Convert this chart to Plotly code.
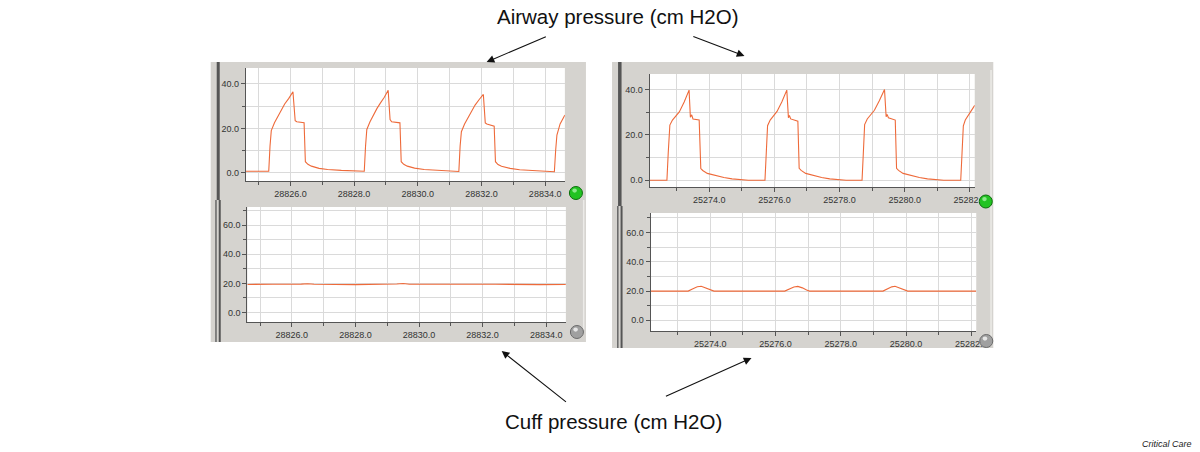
import plotly.graph_objects as go

W, H = 1200, 452
FIG_W = 1215

# ---------------- data ----------------
airway_left_t = [28824.6, 28825.32, 28825.36, 28825.40, 28825.50, 28825.61, 28825.72, 28825.82, 28825.95, 28826.08,
                 28826.15, 28826.20, 28826.43, 28826.47, 28826.55, 28826.66, 28826.90, 28827.17, 28827.60, 28828.00, 28828.30,
                 28828.32, 28828.36, 28828.40, 28828.50, 28828.60, 28828.72, 28828.83, 28828.95, 28829.07,
                 28829.13, 28829.18, 28829.44, 28829.48, 28829.56, 28829.67, 28829.90, 28830.20, 28830.60, 28831.00, 28831.27,
                 28831.29, 28831.33, 28831.37, 28831.47, 28831.58, 28831.70, 28831.80, 28831.93, 28832.06,
                 28832.12, 28832.17, 28832.40, 28832.44, 28832.52, 28832.63, 28832.90, 28833.20, 28833.60, 28834.00, 28834.27,
                 28834.29, 28834.33, 28834.37, 28834.47, 28834.62]
airway_left_p = [0.7, 0.7, 12.0, 19.0, 22.5, 25.5, 28.5, 31.0, 33.5, 36.5,
                 23.5, 23.0, 22.5, 5.0, 3.8, 3.0, 2.0, 1.5, 1.1, 0.9, 0.7,
                 0.7, 12.0, 19.5, 23.0, 26.0, 29.0, 31.5, 34.0, 37.2,
                 24.0, 23.0, 22.5, 5.0, 3.8, 3.0, 2.1, 1.5, 1.1, 0.8, 0.6,
                 0.6, 12.0, 18.5, 22.0, 25.0, 28.0, 30.5, 33.0, 35.3,
                 22.5, 22.0, 21.0, 5.0, 3.7, 2.9, 2.0, 1.4, 1.0, 0.7, 0.5,
                 0.5, 10.0, 17.0, 22.0, 26.0]

cuff_left_t = [28824.6, 28825.2, 28825.4, 28826.3, 28826.5, 28826.7, 28828.0, 28829.3, 28829.5, 28829.7,
               28831.3, 28832.4, 28833.8, 28834.2, 28834.62]
cuff_left_p = [19.3, 19.1, 19.4, 19.5, 19.8, 19.4, 19.2, 19.6, 19.9, 19.4,
               19.1, 19.4, 19.2, 19.0, 19.3]

airway_right_t = [25272.17, 25272.70, 25272.74, 25272.79, 25272.87, 25272.97, 25273.08, 25273.23, 25273.38,
                  25273.42, 25273.46, 25273.50, 25273.69, 25273.74, 25273.80, 25273.94, 25274.20, 25274.45, 25274.70, 25274.96, 25275.20, 25275.69,
                  25275.71, 25275.75, 25275.79, 25275.87, 25275.97, 25276.08, 25276.23, 25276.38,
                  25276.43, 25276.46, 25276.50, 25276.72, 25276.76, 25276.82, 25276.96, 25277.20, 25277.45, 25277.70, 25277.96, 25278.20, 25278.67,
                  25278.69, 25278.73, 25278.77, 25278.85, 25278.95, 25279.07, 25279.22, 25279.38,
                  25279.43, 25279.46, 25279.50, 25279.71, 25279.75, 25279.81, 25279.95, 25280.20, 25280.45, 25280.70, 25280.96, 25281.20, 25281.70,
                  25281.72, 25281.76, 25281.80, 25281.86, 25281.96, 25282.06, 25282.15]
airway_right_p = [0.0, 0.0, 12.0, 24.3, 26.5, 28.3, 30.1, 34.5, 39.7,
                  27.8, 28.8, 27.0, 26.5, 5.1, 4.3, 3.0, 2.0, 1.2, 0.6, 0.2, 0.0, 0.0,
                  0.0, 12.0, 24.0, 26.5, 28.3, 30.3, 34.6, 39.7,
                  27.5, 28.5, 27.0, 26.0, 5.2, 4.3, 3.0, 2.0, 1.2, 0.6, 0.2, 0.0, 0.0,
                  0.0, 12.0, 24.5, 27.0, 28.7, 30.8, 35.0, 40.0,
                  28.0, 29.0, 27.5, 26.5, 5.2, 4.3, 3.0, 2.0, 1.2, 0.6, 0.2, 0.0, 0.0,
                  0.0, 12.0, 24.0, 26.5, 28.5, 31.0, 33.0]

cuff_right_t = [25272.17, 25273.32, 25273.45, 25273.60, 25273.72, 25273.85, 25274.00, 25274.11,
                25276.28, 25276.42, 25276.56, 25276.68, 25276.82, 25276.95, 25277.04,
                25279.29, 25279.43, 25279.56, 25279.66, 25279.80, 25279.95, 25280.05, 25282.15]
cuff_right_p = [20.0, 20.0, 21.5, 23.0, 23.3, 22.3, 20.8, 20.0,
                20.0, 21.5, 22.8, 23.2, 22.2, 20.7, 20.0,
                20.0, 21.5, 22.9, 23.3, 22.2, 20.7, 20.0, 20.0]

x_range_left = [28824.6, 28834.62]
x_range_right = [25272.17, 25282.15]
airway_y_left = [-3.7, 47.2]
airway_y_right = [-3.0, 46.8]
cuff_y_left = [-6.5, 72.5]
cuff_y_right = [-7.3, 73.4]

title_top = "Airway pressure (cm H2O)"
title_bottom = "Cuff pressure (cm H2O)"
credit = "Critical Care"

# ---------------- styling ----------------
LINE = "#EE6A3A"
GRID = "#dadada"
AXC = "#555555"
PANEL = "#D5D3CF"
FONT = "Liberation Sans"


def px(x):
    return x / W


def py(y):
    return 1 - y / H


def xax(dom, rng, t0):
    return dict(domain=[px(dom[0]), px(dom[1])], range=rng, tick0=t0, dtick=2, tickformat=".1f",
                showline=True, linecolor=AXC, linewidth=1, ticks="outside", ticklen=4, tickcolor=AXC,
                showgrid=True, gridcolor=GRID, gridwidth=1, zeroline=False, fixedrange=True,
                minor=dict(dtick=1, tick0=t0, showgrid=True, gridcolor=GRID, ticks="outside", ticklen=3, tickcolor=AXC),
                tickfont=dict(size=9, color="#333", family=FONT))


def yax(dom, rng):
    return dict(domain=[py(dom[1]), py(dom[0])], range=rng, tick0=0, dtick=20, tickformat=".1f",
                showline=True, linecolor=AXC, linewidth=1, ticks="outside", ticklen=4, tickcolor=AXC,
                showgrid=True, gridcolor=GRID, gridwidth=1, zeroline=False, fixedrange=True,
                minor=dict(dtick=10, tick0=0, showgrid=True, gridcolor=GRID, ticks="outside", ticklen=3, tickcolor=AXC),
                tickfont=dict(size=9, color="#333", family=FONT))


# pixel geometry of each plot area: (x0, x1), (y0_top, y1_bottom)
TL = ((245, 563), (68, 181))
BL = ((246.5, 564), (207, 322))
TR = ((647.5, 971.5), (74, 187))
BR = ((648.5, 973), (213, 331))

fig = go.Figure()
fig.add_trace(go.Scatter(x=airway_left_t, y=airway_left_p, xaxis="x", yaxis="y", mode="lines",
                         line=dict(color=LINE, width=1.1), hoverinfo="skip"))
fig.add_trace(go.Scatter(x=cuff_left_t, y=cuff_left_p, xaxis="x2", yaxis="y2", mode="lines",
                         line=dict(color=LINE, width=1.1), hoverinfo="skip"))
fig.add_trace(go.Scatter(x=airway_right_t, y=airway_right_p, xaxis="x3", yaxis="y3", mode="lines",
                         line=dict(color=LINE, width=1.1), hoverinfo="skip"))
fig.add_trace(go.Scatter(x=cuff_right_t, y=cuff_right_p, xaxis="x4", yaxis="y4", mode="lines",
                         line=dict(color=LINE, width=1.1), hoverinfo="skip"))

shapes = []


def rect(x0, y0, x1, y1, fill, line=None, layer="below"):
    shapes.append(dict(type="rect", xref="paper", yref="paper", x0=px(x0), x1=px(x1), y0=py(y1), y1=py(y0),
                       fillcolor=fill, line=dict(width=0 if line is None else 1, color=line or fill), layer=layer))


# gray panels
rect(210, 62, 584, 342, PANEL)
rect(610, 62, 990, 348, PANEL)
# dark bars at panel left edges
rect(216, 62, 219, 200, "#555")
rect(214.5, 200, 216, 342, "#666")
rect(218, 200, 220, 342, "#555")
rect(616, 62, 619.5, 206, "#555")
rect(615, 206, 616.5, 348, "#666")
rect(618.5, 206, 620.5, 348, "#555")
# scrollbar-ish light strips
rect(581, 200, 582.5, 330, "#ecebe8")
rect(987, 70, 988.5, 340, "#ecebe8")
# white plot areas
for (xs, ys) in (TL, BL, TR, BR):
    rect(xs[0], ys[0], xs[1], ys[1], "white")


def ball(cx, cy, r, fill, edge, hl):
    shapes.append(dict(type="circle", xref="paper", yref="paper", x0=px(cx - r), x1=px(cx + r),
                       y0=py(cy + r), y1=py(cy - r), fillcolor=fill, line=dict(color=edge, width=1), layer="above"))
    shapes.append(dict(type="circle", xref="paper", yref="paper", x0=px(cx - r * 0.55), x1=px(cx + r * 0.15),
                       y0=py(cy - r * 0.05), y1=py(cy - r * 0.7), fillcolor=hl, line=dict(width=0), layer="above"))


ball(574, 193, 6.5, "#22c322", "#0b6e0b", "#8de88d")
ball(575, 332, 6.5, "#a0a0a0", "#6b6b6b", "#e6e6e6")
ball(982.5, 201.5, 6.5, "#22c322", "#0b6e0b", "#8de88d")
ball(983, 341, 6.5, "#a0a0a0", "#6b6b6b", "#e6e6e6")

annotations = [
    dict(text=title_top, x=px(616), y=py(16), xref="paper", yref="paper", showarrow=False,
         font=dict(size=20.5, color="#111", family=FONT), xanchor="center", yanchor="middle"),
    dict(text=title_bottom, x=px(611), y=py(421), xref="paper", yref="paper", showarrow=False,
         font=dict(size=20.5, color="#111", family=FONT), xanchor="center", yanchor="middle"),
    dict(text="<i>" + credit + "</i>", x=px(1190), y=py(444), xref="paper", yref="paper", showarrow=False,
         font=dict(size=9, color="#222", family=FONT), xanchor="right", yanchor="middle"),
]


def arrow(tail, tip):
    k = FIG_W / W
    annotations.append(dict(text="", x=px(tip[0]), y=py(tip[1]), xref="paper", yref="paper",
                            ax=(tail[0] - tip[0]) * k, ay=tail[1] - tip[1], showarrow=True,
                            arrowhead=2, arrowsize=1.4, arrowwidth=1.1, arrowcolor="#111", standoff=0))


arrow((545, 36), (485, 62))
arrow((690, 36), (742, 56))
arrow((565, 403), (500, 351))
arrow((663, 397), (749, 358))

fig.update_layout(
    width=FIG_W, height=H, margin=dict(l=0, r=0, t=0, b=0),
    paper_bgcolor="white", plot_bgcolor="rgba(0,0,0,0)", showlegend=False,
    xaxis=xax(TL[0], x_range_left, 28826), yaxis=yax(TL[1], airway_y_left),
    xaxis2=xax(BL[0], x_range_left, 28826), yaxis2=yax(BL[1], cuff_y_left),
    xaxis3=xax(TR[0], x_range_right, 25274), yaxis3=yax(TR[1], airway_y_right),
    xaxis4=xax(BR[0], x_range_right, 25274), yaxis4=yax(BR[1], cuff_y_right),
    shapes=shapes, annotations=annotations,
)
fig.layout.xaxis.anchor = "y"
fig.layout.yaxis.anchor = "x"
fig.layout.xaxis2.anchor = "y2"
fig.layout.yaxis2.anchor = "x2"
fig.layout.xaxis3.anchor = "y3"
fig.layout.yaxis3.anchor = "x3"
fig.layout.xaxis4.anchor = "y4"
fig.layout.yaxis4.anchor = "x4"

fig.write_html("out.html", config={"displayModeBar": False},
               post_script="document.body.style.margin='0px';document.body.style.overflow='hidden';")
